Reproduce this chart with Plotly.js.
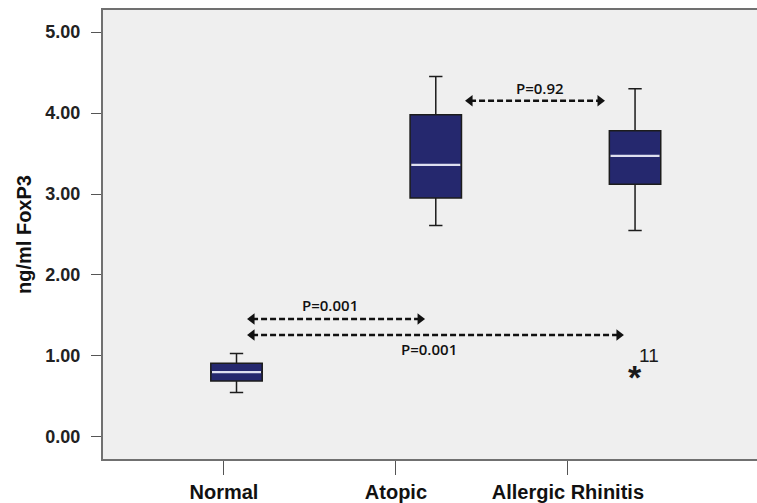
<!DOCTYPE html>
<html>
<head>
<meta charset="utf-8">
<script src="https://cdn.plot.ly/plotly-3.0.1.min.js"></script>
<style>html,body{margin:0;padding:0;background:#fff;}#chart{width:757px;height:503px;}</style>
</head>
<body>
<div id="chart"></div>
<script>
// ---- data ----
const groups = ["Normal", "Atopic", "Allergic Rhinitis"];
const boxPositions = [0, 1, 2];
const tickPositions = [-0.063, 0.800, 1.663];
const lowerWhisker = [0.55, 2.61, 2.55];
const q1Values = [0.69, 2.95, 3.12];
const medianValues = [0.80, 3.36, 3.47];
const q3Values = [0.91, 3.98, 3.78];
const upperWhisker = [1.03, 4.45, 4.30];
const outlierX = [2];
const outlierY = [0.79];
const outlierLabels = ["11"];
// comparison arrows (arrowhead centres): start x, end x, y
const arrowStartX = [0.078, 0.078, 1.172];
const arrowEndX = [0.921, 1.919, 1.824];
const arrowY = [1.457, 1.259, 4.152];
const pLabels = ["P=0.001", "P=0.001", "P=0.92"];
const pLabelX = [0.468, 0.966, 1.525];
const pLabelY = [1.63, 1.086, 4.305];

const boxWidth = 0.258;
const traces = [];
traces.push({
  type: "box",
  x: boxPositions,
  q1: q1Values, median: medianValues, q3: q3Values,
  lowerfence: lowerWhisker, upperfence: upperWhisker,
  width: boxWidth,
  whiskerwidth: 0.26,
  fillcolor: "#25286e",
  line: {color: "#1c1c1c", width: 1.5},
  boxpoints: false,
  hoverinfo: "skip",
  showlegend: false
});
// white median lines
const mx = [], my = [];
boxPositions.forEach((p, i) => {
  mx.push(p - boxWidth / 2 + 0.006, p + boxWidth / 2 - 0.006, null);
  my.push(medianValues[i], medianValues[i], null);
});
traces.push({type: "scatter", mode: "lines", x: mx, y: my,
  line: {color: "#dedff0", width: 2.2}, hoverinfo: "skip", showlegend: false});
// dashed arrows
arrowY.forEach((y, i) => {
  traces.push({type: "scatter", mode: "lines+markers",
    x: [arrowStartX[i], arrowEndX[i]], y: [y, y],
    line: {color: "#111", width: 2.5, dash: "6px,3px"},
    marker: {symbol: ["triangle-left", "triangle-right"], size: 10, color: "#111"},
    hoverinfo: "skip", showlegend: false});
});

const annotations = pLabels.map((t, i) => ({
  x: pLabelX[i], y: pLabelY[i], xref: "x", yref: "y", text: t, showarrow: false,
  font: {family: "Open Sans, sans-serif", size: 15, color: "#111", weight: 600}
}));
// outlier asterisk and its case label
outlierX.forEach((x, i) => {
  annotations.push({
    x: x, y: outlierY[i], xref: "x", yref: "y", text: "*", showarrow: false, yshift: -4,
    font: {family: "Liberation Sans, Arial, sans-serif", size: 34, color: "#1a1a1a", weight: "bold"}
  });
  annotations.push({
    x: x + 0.07, y: outlierY[i] + 0.21, xref: "x", yref: "y", text: outlierLabels[i], showarrow: false,
    font: {family: "Liberation Sans, Arial, sans-serif", size: 19, color: "#1a1a1a"}
  });
});

const layout = {
  width: 757, height: 503,
  margin: {l: 103, r: 0, t: 10, b: 44},
  paper_bgcolor: "#ffffff",
  plot_bgcolor: "#efefef",
  showlegend: false,
  xaxis: {
    type: "linear",
    range: [-0.670, 2.612],
    tickmode: "array", tickvals: tickPositions, ticktext: groups,
    ticks: "outside", ticklen: 14, tickcolor: "#555", tickwidth: 1,
    showline: true, linecolor: "#707070", linewidth: 2, mirror: true,
    showgrid: false, zeroline: false,
    tickfont: {family: "Liberation Sans, Arial, sans-serif", size: 20, color: "#111", weight: "bold"},
    fixedrange: true
  },
  yaxis: {
    range: [-0.272, 5.272],
    tickmode: "linear", tick0: 0, dtick: 1, tickformat: ".2f",
    ticks: "outside", ticklen: 10, tickcolor: "#555", tickwidth: 1,
    ticklabelstandoff: 7,
    showline: true, linecolor: "#707070", linewidth: 2, mirror: false,
    showgrid: false, zeroline: false,
    tickfont: {family: "Liberation Sans, Arial, sans-serif", size: 18, color: "#222", weight: "bold"},
    title: {text: "ng/ml FoxP3", standoff: 8,
      font: {family: "Liberation Sans, Arial, sans-serif", size: 20, color: "#111", weight: "bold"}},
    automargin: false,
    fixedrange: true
  },
  annotations: annotations
};
Plotly.newPlot("chart", traces, layout, {displayModeBar: false, staticPlot: true});
</script>
</body>
</html>
